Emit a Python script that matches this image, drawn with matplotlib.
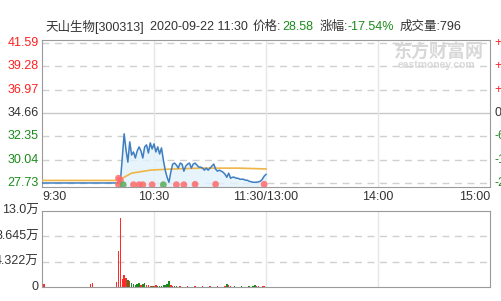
import matplotlib
matplotlib.use("Agg")
import matplotlib.pyplot as plt

plt.rcParams['font.family'] = ['Liberation Sans', 'Noto Sans CJK SC', 'DejaVu Sans']

# price axis levels (left) and percent labels (right)
price_ticks = [41.59, 39.28, 36.97, 34.66, 32.35, 30.04, 27.73]
pct_labels = ['+20.00%', '+13.33%', '+6.67%', '0.00%', '-6.67%', '-13.33%', '-20.00%']
tick_colors = ['#ff2020', '#ff2020', '#ff2020', '#333333', '#1a8a1a', '#1a8a1a', '#1a8a1a']

# minutes since 9:30 (0..240, lunch break collapsed)
time_pos = [0, 60, 120, 180, 240]
time_labels = ['9:30', '10:30', '11:30/13:00', '14:00', '15:00']

# price line (minute, price)
price_min = [0, 41, 42, 43, 44, 45, 46, 47, 48, 49, 50, 51, 52, 53, 54, 55, 56, 57, 58, 59,
             60, 61, 62, 63, 64, 65, 66, 67, 68, 69, 70, 71, 72, 73, 74, 75, 76, 77, 78, 79,
             80, 81, 82, 83, 84, 85, 86, 87, 88, 89, 90, 91, 92, 93, 94, 95, 96, 97, 98, 99,
             100, 101, 102, 103, 104, 105, 106, 107, 108, 109, 110, 111, 112, 113, 114, 115,
             116, 117, 118, 119, 120]
price_val = [27.73, 27.73, 27.9, 30.2, 32.6, 31.0, 29.8, 31.8, 30.5, 30.8, 30.2, 30.9, 31.3, 30.9,
             30.2, 31.3, 31.5, 30.7, 31.7, 31.1, 31.6, 30.8, 31.3, 30.6, 31.2, 30.0, 29.0, 28.3,
             27.8, 28.8, 29.6, 29.7, 29.5, 29.2, 29.7, 29.6, 28.9, 29.4, 29.6, 29.7, 29.2, 29.6,
             29.7, 29.5, 29.3, 29.3, 29.2, 29.0, 29.2, 29.0, 29.2, 29.4, 29.6, 29.1, 28.9, 29.0,
             28.9, 28.8, 28.6, 28.3, 28.7, 28.2, 28.3, 28.3, 28.2, 28.2, 28.1, 28.1, 28.1, 28.0,
             28.0, 27.9, 27.85, 27.8, 27.8, 27.8, 27.85, 27.9, 28.1, 28.4, 28.58]

# average price line
avg_min = [0, 41, 42, 44, 46, 48, 53, 58, 68, 85, 105, 120]
avg_val = [27.98, 27.98, 28.1, 28.3, 28.5, 28.7, 28.85, 29.0, 29.1, 29.2, 29.2, 29.12]

# big trade markers
dot_min = [41, 42, 41, 43.5, 49, 52, 54, 59, 65, 72, 76, 82, 93, 119]
dot_val = [28.2, 28.0, 27.56, 27.56, 27.56, 27.56, 27.56, 27.56, 27.56, 27.56, 27.56, 27.6, 27.6, 27.6]
dot_col = ['r', 'r', 'r', 'g', 'r', 'r', 'r', 'r', 'g', 'r', 'r', 'r', 'r', 'r']

# volume (万) per minute
vol_min = [0, 1, 26, 27, 40, 41, 42, 43, 44, 45, 46, 47, 48, 49, 50, 51, 52, 53, 54, 55, 56, 57,
           58, 59, 60, 61, 62, 63, 64, 65, 66, 67, 68, 69, 70, 71, 72, 74, 76, 78, 80, 82, 84,
           86, 88, 90, 92, 94, 96, 98, 99, 100, 101, 103, 105, 107, 109, 111, 113, 114, 115,
           116, 117, 118, 119]
vol_val = [0.25, 0.45, 0.45, 0.6, 0.8, 6.1, 11.85, 1.3, 2.05, 1.6, 1.25, 1.0, 0.7, 0.55, 0.4,
           0.45, 0.6, 0.3, 0.45, 0.6, 0.35, 0.3, 0.2, 0.15, 0.15, 0.3, 0.2, 0.15, 0.25, 0.3,
           0.35, 0.5, 1.0, 0.35, 0.2, 0.15, 0.25, 0.1, 0.08, 0.1, 0.08, 0.1, 0.08, 0.1, 0.08,
           0.1, 0.08, 0.1, 0.08, 0.1, 0.55, 0.4, 0.2, 0.1, 0.08, 0.1, 0.08, 0.1, 0.25, 0.35,
           0.15, 0.1, 0.08, 0.1, 0.1]
vol_col = ['r', 'r', 'r', 'r', 'r', 'r', 'r', 'r', 'r', 'r', 'g', 'r', 'g', 'g', 'g', 'g', 'g',
           'r', 'g', 'g', 'r', 'r', 'r', 'g', 'r', 'r', 'g', 'g', 'g', 'g', 'g', 'g', 'g', 'r',
           'r', 'g', 'g', 'r', 'g', 'r', 'g', 'r', 'g', 'r', 'g', 'r', 'g', 'r', 'g', 'r', 'g',
           'r', 'r', 'g', 'r', 'g', 'r', 'g', 'g', 'g', 'r', 'r', 'r', 'r', 'r']
vol_ticks = [13.0, 8.645, 4.322, 0]
vol_tick_labels = ['13.0万', '8.645万', '4.322万', '0']

RED = '#ff2a2a'
GREEN = '#1a8a1a'
GRID = '#d0d0d0'
BORDER = '#9a9a9a'

fig = plt.figure(figsize=(5.01, 3.01), dpi=100)
ax = fig.add_axes([42 / 501, 1 - 186.5 / 301, 448 / 501, 146.5 / 301])
axv = fig.add_axes([42 / 501, 1 - 287 / 301, 448 / 501, 76 / 301])

# price panel
ax.set_xlim(0, 240)
ax.set_ylim(27.38, 41.89)
for p in price_ticks:
    if p == 34.66:
        ax.axhline(p, color='#c8c8c8', lw=1, zorder=1)
    else:
        ax.axhline(p, color=GRID, lw=1, ls=(0, (5, 4)), zorder=1)
for t in time_pos[1:-1]:
    ax.axvline(t, color='#e6e6e6', lw=1, zorder=1)

ax.fill_between(price_min[1:], price_val[1:], 27.38, color='#e3f2fc', alpha=0.8, zorder=2)
ax.plot(avg_min, avg_val, color='#f0b547', lw=1.2, zorder=3)
ax.plot(price_min, price_val, color='#3f7fc0', lw=1.1, zorder=4)
ax.scatter(dot_min, dot_val, s=24, zorder=5, edgecolors='none',
           c=[('#ff6a6a' if c == 'r' else '#5aaa5a') for c in dot_col], alpha=0.85)

ax.set_xticks([])
ax.set_yticks([])
for s in ax.spines.values():
    s.set_color(BORDER)
for p, lab, c in zip(price_ticks, pct_labels, tick_colors):
    ax.text(-0.007, p, f'{p:.2f}', transform=ax.get_yaxis_transform(), ha='right',
            va='center', fontsize=9, color=c)
    ax.text(1.009, p, lab, transform=ax.get_yaxis_transform(), ha='left',
            va='center', fontsize=9, color=c)

# volume panel
axv.set_xlim(0, 240)
axv.set_ylim(0, 13.0)
for v in vol_ticks[1:3]:
    axv.axhline(v, color=GRID, lw=1, ls=(0, (5, 4)), zorder=1)
for t in time_pos[1:-1]:
    axv.axvline(t, color='#e6e6e6', lw=1, zorder=1)
axv.bar(vol_min, vol_val, width=0.8, color=[(RED if c == 'r' else GREEN) for c in vol_col],
        zorder=2)
axv.set_xticks([])
axv.set_yticks([])
for s in axv.spines.values():
    s.set_color(BORDER)
for v, lab in zip(vol_ticks, vol_tick_labels):
    axv.text(-0.007, v, lab, transform=axv.get_yaxis_transform(), ha='right',
             va='center', fontsize=9, color='#333333')

# time labels between panels
for t, lab in zip(time_pos, time_labels):
    ha = 'left' if t == 0 else ('right' if t == 240 else 'center')
    ax.text(t, -0.07, lab, transform=ax.get_xaxis_transform(), ha=ha, va='center',
            fontsize=9, color='#333333')

# title line
ty = 1 - 27 / 301
fig.text(45.5 / 501, ty, '天山生物[300313]', fontsize=9, color='#333333', va='center')
fig.text(150 / 501, ty, '2020-09-22 11:30', fontsize=9, color='#333333', va='center')
fig.text(253 / 501, ty, '价格:', fontsize=9, color='#333333', va='center')
fig.text(282 / 501, ty, '28.58', fontsize=9, color=GREEN, va='center')
fig.text(320 / 501, ty, '涨幅:', fontsize=9, color='#333333', va='center')
fig.text(348 / 501, ty, '-17.54%', fontsize=9, color=GREEN, va='center')
fig.text(400 / 501, ty, '成交量:796', fontsize=9, color='#333333', va='center')

# watermark
fig.text(394 / 501, 1 - 52 / 301, '东方财富网', fontsize=13, color='#d8d8d8',
         fontweight='bold', va='center')
fig.text(398 / 501, 1 - 65 / 301, 'eastmoney.com', fontsize=7.5, color='#d8d8d8',
         fontweight='bold', va='center')

fig.savefig('out.png', dpi=100)
